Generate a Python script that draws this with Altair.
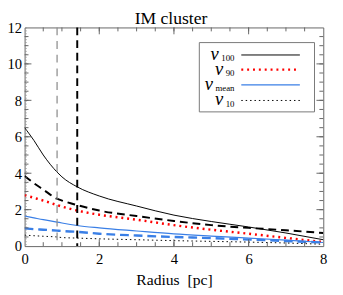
import altair as alt
import pandas as pd

# ---- data ----
radius = [0, 0.25, 0.5, 0.87, 1.0, 1.41, 2, 3, 4, 5, 6, 7, 8]
v100 = [6.5, 5.8, 5.0, 4.06, 3.8, 3.25, 2.75, 2.2, 1.7, 1.35, 1.05, 0.72, 0.35]
v100_b = [3.85, 3.45, 3.1, 2.6, 2.5, 2.25, 1.95, 1.65, 1.38, 1.15, 1.0, 0.87, 0.72]
v90 = [2.8, 2.65, 2.5, 2.25, 2.17, 1.95, 1.72, 1.45, 1.15, 0.9, 0.68, 0.45, 0.22]
vmean = [1.65, 1.55, 1.45, 1.32, 1.27, 1.13, 1.0, 0.83, 0.67, 0.55, 0.44, 0.33, 0.2]
vmean_b = [0.97, 0.93, 0.9, 0.85, 0.83, 0.78, 0.68, 0.58, 0.5, 0.44, 0.36, 0.28, 0.2]
v10 = [0.6, 0.57, 0.54, 0.5, 0.47, 0.44, 0.4, 0.35, 0.3, 0.26, 0.22, 0.17, 0.1]
vlines_gray = [0.87]
vlines_black = [1.41]
x_labels = [0, 2, 4, 6, 8]
y_labels = [0, 2, 4, 6, 8, 10, 12]
x_minor = [0.5 * i for i in range(1, 16)]
x_major = [2, 4, 6]
y_minor = [0.5 * i for i in range(1, 24)]
y_major = [2, 4, 6, 8, 10]
title_text = "IM cluster"
x_title = "Radius \u00a0[pc]"

W, H = 306, 224
FONT = "Liberation Serif"
BLUE = "#3a7fe6"
FRAME = "#666666"

xs = alt.Scale(domain=[0, 8], nice=False, zero=False)
ys = alt.Scale(domain=[0, 12], nice=False, zero=False)

xaxis = alt.Axis(values=x_labels, format="d", ticks=False, domain=False, grid=False,
                 labelFont=FONT, labelFontSize=15, labelPadding=6, labelColor="black",
                 labelFlush=False, titleFont=FONT, titleFontSize=16,
                 titleFontWeight="normal", titlePadding=5, titleColor="black")
yaxis = alt.Axis(values=y_labels, format="d", ticks=False, domain=False, grid=False,
                 labelFont=FONT, labelFontSize=15, labelPadding=3, labelColor="black")


def X(field):
    return alt.X(field, scale=xs, axis=xaxis, title=x_title)


def Y(field):
    return alt.Y(field, scale=ys, axis=yaxis, title="")


series = [
    (v100, "black", 1.0, None),
    (v100_b, "black", 2.0, [8, 5]),
    (v90, "#ff0000", 2.5, [2, 4]),
    (vmean, BLUE, 1.2, None),
    (vmean_b, BLUE, 2.4, [9, 5]),
    (v10, "black", 1.0, [1.5, 3]),
]

layers = []
for vals, col, sw, dash in series:
    df = pd.DataFrame({"r": radius, "v": vals})
    kw = dict(color=col, strokeWidth=sw, interpolate="monotone", clip=True)
    if dash:
        kw["strokeDash"] = dash
    layers.append(alt.Chart(df).mark_line(**kw).encode(x=X("r:Q"), y=Y("v:Q")))

# left dotted line along axis
layers.append(alt.Chart(pd.DataFrame({"r": [0.04]})).mark_rule(
    color="#888", strokeWidth=1, strokeDash=[1, 2]).encode(x=X("r:Q")))

layers.append(alt.Chart(pd.DataFrame({"r": vlines_gray})).mark_rule(
    color="#8f8f8f", strokeWidth=1.3, strokeDash=[8, 6]).encode(x=X("r:Q")))
layers.append(alt.Chart(pd.DataFrame({"r": vlines_black})).mark_rule(
    color="black", strokeWidth=2, strokeDash=[8, 5]).encode(x=X("r:Q")))


# inward ticks on all four sides
def xticks(vals, length):
    d = pd.DataFrame({"r": vals})
    bot = alt.Chart(d).mark_rule(color=FRAME, strokeWidth=1).encode(
        x=X("r:Q"), y=alt.value(H), y2=alt.value(H - length))
    top = alt.Chart(d).mark_rule(color=FRAME, strokeWidth=1).encode(
        x=X("r:Q"), y=alt.value(0), y2=alt.value(length))
    return [bot, top]


def yticks(vals, length):
    d = pd.DataFrame({"v": vals})
    left = alt.Chart(d).mark_rule(color=FRAME, strokeWidth=1).encode(
        y=Y("v:Q"), x=alt.value(0), x2=alt.value(length))
    right = alt.Chart(d).mark_rule(color=FRAME, strokeWidth=1).encode(
        y=Y("v:Q"), x=alt.value(W), x2=alt.value(W - length))
    return [left, right]


layers += xticks(x_minor, 4) + xticks(x_major, 7) + yticks(y_minor, 4) + yticks(y_major, 7)

# legend
one = pd.DataFrame({"a": [0]})
layers.append(alt.Chart(one).mark_rect(fill="white", stroke="#777777", strokeWidth=1).encode(
    x=alt.value(179), x2=alt.value(297), y=alt.value(15.5), y2=alt.value(86.5)))

legend_items = [
    ("100", 28.2, 199.0, "black", 1.0, None),
    ("90", 43.2, 203.5, "#ff0000", 2.5, [2, 4]),
    ("mean", 58.8, 193.0, BLUE, 1.2, None),
    ("10", 74.8, 203.5, "black", 1.0, [1.5, 3]),
]
for sub, yy, anchor, col, sw, dash in legend_items:
    kw = dict(color=col, strokeWidth=sw)
    if dash:
        kw["strokeDash"] = dash
    layers.append(alt.Chart(one).mark_rule(**kw).encode(
        x=alt.value(222), x2=alt.value(282), y=alt.value(yy)))
    layers.append(alt.Chart(one).mark_text(
        text="v", font=FONT, fontSize=19, fontStyle="italic", align="right",
        baseline="middle", color="black").encode(x=alt.value(anchor), y=alt.value(yy - 1)))
    layers.append(alt.Chart(one).mark_text(
        text=sub, font=FONT, fontSize=9, align="left",
        baseline="middle", color="black").encode(x=alt.value(anchor + 2.5), y=alt.value(yy + 3.5)))

# title as text
layers.append(alt.Chart(one).mark_text(
    text=title_text, font=FONT, fontSize=18, align="center", baseline="middle",
    color="black").encode(x=alt.value(150), y=alt.value(-8.5)))

chart = alt.layer(*layers).properties(
    width=W, height=H,
    autosize=alt.AutoSizeParams(type="none"),
    padding={"left": 17, "top": 16.5, "right": 12, "bottom": 40},
).configure_view(stroke=FRAME, strokeWidth=1)

chart.save("out.html", embed_options={"renderer": "svg", "actions": False})
